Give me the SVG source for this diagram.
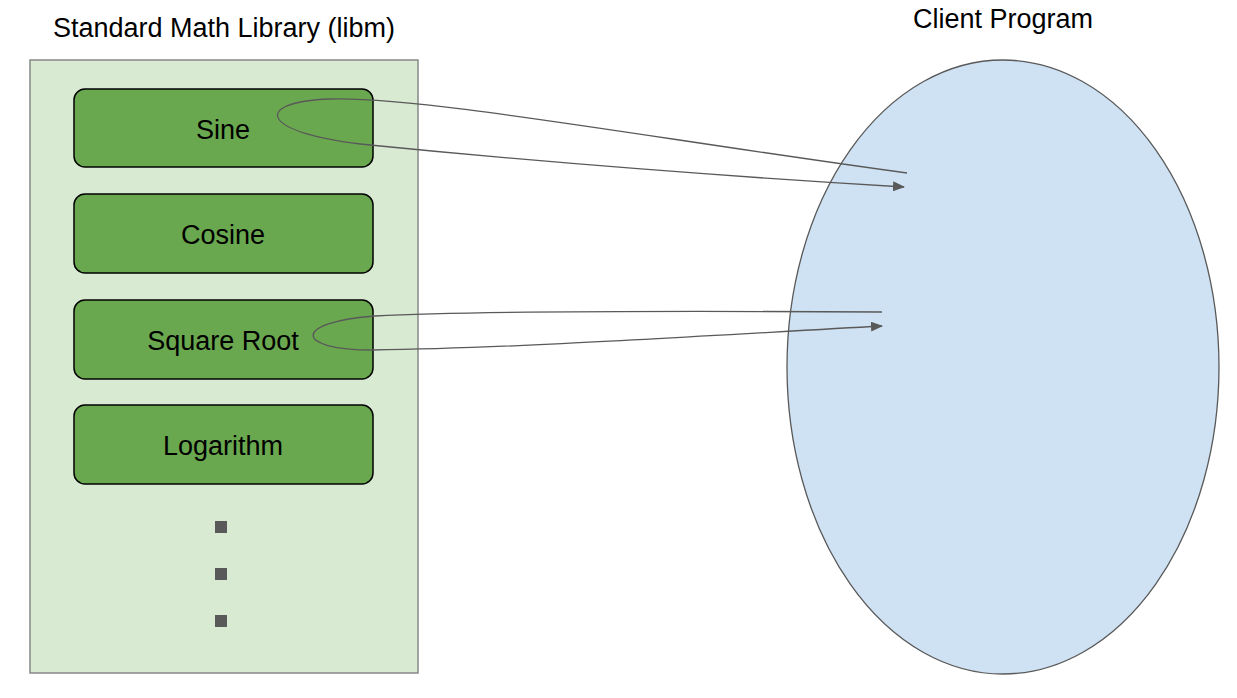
<svg xmlns="http://www.w3.org/2000/svg" width="1237" height="698" viewBox="0 0 1237 698">
<style>
text{font-family:"Liberation Sans",Arial,sans-serif;font-size:27px;fill:#000;text-anchor:middle}
.node{fill:#6aa84f;stroke:#000;stroke-width:1.5}
.conn{fill:none;stroke:#595959;stroke-width:1.3}
.dot{fill:#595959}
</style>
<defs>
<marker id="ah" markerWidth="12" markerHeight="10" refX="11" refY="5" orient="auto" markerUnits="userSpaceOnUse">
<path d="M0,0 L12,5 L0,10 Z" fill="#595959"/>
</marker>
</defs>
<rect width="1237" height="698" fill="#fff"/>
<g id="library">
<rect x="30" y="60" width="388" height="613" fill="#d9ead3" stroke="#888" stroke-width="1.5"/>
<text x="224" y="37">Standard Math Library (libm)</text>
<rect class="dot" x="215" y="521" width="12" height="12"/>
<rect class="dot" x="215" y="568" width="12" height="12"/>
<rect class="dot" x="215" y="615" width="12" height="12"/>
</g>
<g id="sine"><rect class="node" x="74" y="89" width="299" height="78" rx="11"/><text x="223" y="139">Sine</text></g>
<g id="cosine"><rect class="node" x="74" y="194" width="299" height="79" rx="11"/><text x="223" y="244">Cosine</text></g>
<g id="sqrt"><rect class="node" x="74" y="300" width="299" height="79" rx="11"/><text x="223" y="350">Square Root</text></g>
<g id="log"><rect class="node" x="74" y="405" width="299" height="79" rx="11"/><text x="223" y="455">Logarithm</text></g>
<g id="client">
<ellipse cx="1003" cy="367" rx="216" ry="307" fill="#cfe2f3" stroke="#595959" stroke-width="1.3"/>
<text x="1003" y="28">Client Program</text>
</g>
<g id="connectors">
<path class="conn" marker-end="url(#ah)" d="M907,173 C650,138 420,96 330,99 C250,102 260,134 370,145 C520,160 720,176 904,187"/>
<path class="conn" marker-end="url(#ah)" d="M882,312 C700,311 470,311 375,316 C292,322 294,350 372,350 C520,348 700,336 882,326"/>
</g>
</svg>
